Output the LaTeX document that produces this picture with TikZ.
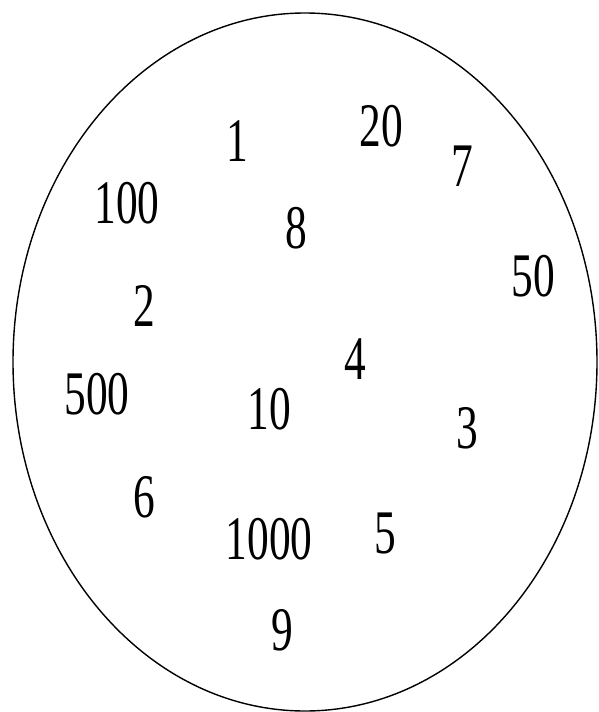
\documentclass[tikz,border=0pt]{standalone}
\usepackage{fontspec}
\setmainfont{Liberation Serif}
\usetikzlibrary{positioning}
\tikzset{
  setrim/.style={draw=black, line width=1.4pt},
  setnum/.style={inner sep=0pt, xscale=0.7, transform shape,
                 font=\fontsize{62}{62}\selectfont},
}

\begin{document}
\begin{tikzpicture}[x=1pt, y=-1pt]
  \useasboundingbox (0,0) rectangle (599,712);
  \draw[setrim] (305,362) ellipse [x radius=292, y radius=349];
  \node[setnum] (n1) at (237,141) {1};
  \node[setnum] (n20) at (381,126) {20};
  \node[setnum] (n7) at (462,166) {7};
  \node[setnum] (n100) at (127,203) {100};
  \node[setnum] (n8) at (296,228) {8};
  \node[setnum] (n50) at (533,276) {50};
  \node[setnum] (n2) at (144,306) {2};
  \node[setnum] (n4) at (355,359) {4};
  \node[setnum] (n500) at (97,394) {500};
  \node[setnum] (n10) at (269,409) {10};
  \node[setnum] (n3) at (467,428) {3};
  \node[setnum] (n6) at (144,497) {6};
  \node[setnum] (n1000) at (269,539) {1000};
  \node[setnum] (n5) at (385,533) {5};
  \node[setnum] (n9) at (282,630) {9};
\end{tikzpicture}
\end{document}
